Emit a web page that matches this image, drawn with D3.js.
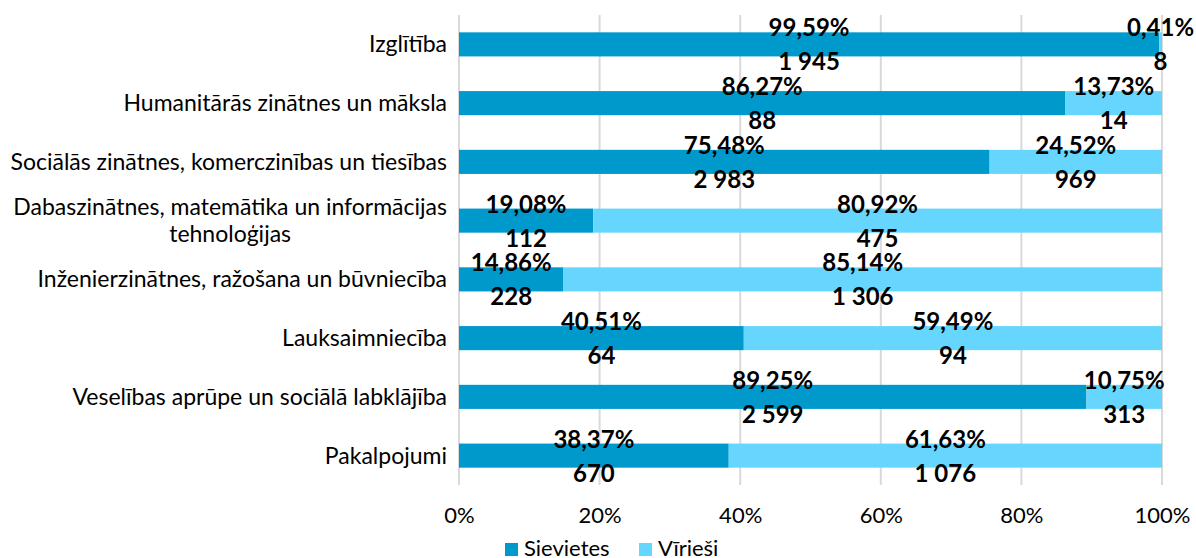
<!DOCTYPE html>
<html>
<head>
<meta charset="utf-8">
<script src="https://cdn.jsdelivr.net/npm/d3@7"></script>
<style>
  body { margin: 0; background: #fff; }
  text { font-family: Lato, "Open Sans", sans-serif; fill: #000; }
</style>
</head>
<body>
<div id="chart"></div>
<script>
// chart data
var categories = [
  "Izglītība",
  "Humanitārās zinātnes un māksla",
  "Sociālās zinātnes, komerczinības un tiesības",
  "Dabaszinātnes, matemātika un informācijas|tehnoloģijas",
  "Inženierzinātnes, ražošana un būvniecība",
  "Lauksaimniecība",
  "Veselības aprūpe un sociālā labklājība",
  "Pakalpojumi"
]
var womenPct = [99.59, 86.27, 75.48, 19.08, 14.86, 40.51, 89.25, 38.37]
var menPct = [0.41, 13.73, 24.52, 80.92, 85.14, 59.49, 10.75, 61.63]
var womenCount = [1945, 88, 2983, 112, 228, 64, 2599, 670]
var menCount = [8, 14, 969, 475, 1306, 94, 313, 1076]
var seriesNames = ["Sievietes", "Vīrieši"]
var xTicks = [0, 20, 40, 60, 80, 100]

var colors = ["#0099CC", "#66D6FF"]

var width = 1196, height = 558
var margin = { top: 15, right: 34, bottom: 73, left: 459 }

var svg = d3.select("#chart")
  .append("svg")
  .attr("width", width)
  .attr("height", height)

var xScale = d3.scaleLinear()
  .domain([0, 100])
  .range([margin.left, width - margin.right])

var yScale = d3.scaleBand()
  .domain(categories)
  .range([margin.top, height - margin.bottom])
  .paddingInner(0.59)
  .paddingOuter(0.295)

var pctFmt = function(v) { return v.toFixed(2).replace(".", ",") + "%" }
var numFmt = d3.formatLocale({ decimal: ",", thousands: "\u00a0", grouping: [3], currency: ["", ""] }).format(",d")

// grid
svg.append("g")
  .attr("class", "grid")
  .selectAll("line")
  .data(xTicks)
  .enter()
  .append("line")
  .attr("x1", d => xScale(d))
  .attr("x2", d => xScale(d))
  .attr("y1", margin.top)
  .attr("y2", height - margin.bottom)
  .style("stroke", "#D9D9D9")
  .style("stroke-width", 2)

// x axis labels
var xAxis = d3.axisBottom(xScale)
  .tickValues(xTicks)
  .tickSize(0)
  .tickFormat(d => d + "%")

svg.append("g")
  .attr("transform", `translate(0,${height - margin.bottom})`)
  .call(xAxis)
  .call(g => g.select(".domain").remove())
  .selectAll("text")
  .attr("y", 0)
  .attr("dy", "38px")
  .style("font-size", "22px")
  .style("font-family", "Lato, sans-serif")

// category labels (right aligned block, multi-line centred)
var catG = svg.append("g")
categories.forEach(function(c) {
  var lines = c.split("|")
  var cy = yScale(c) + yScale.bandwidth() / 2
  var t = catG.append("text")
    .attr("text-anchor", "middle")
    .style("font-size", "23px")
  var lineH = 27
  var x0 = 447
  lines.forEach(function(l, i) {
    t.append("tspan")
      .attr("x", 0)
      .attr("y", cy + (i - (lines.length - 1) / 2) * lineH)
      .attr("dy", "0.35em")
      .text(l)
  })
  var w = t.node().getBBox().width
  t.selectAll("tspan").attr("x", x0 - w / 2)
})

// bars
var segs = categories.map(function(c, i) {
  return [
    { cat: c, x0: 0, x1: womenPct[i], pct: womenPct[i], n: womenCount[i], s: 0 },
    { cat: c, x0: womenPct[i], x1: womenPct[i] + menPct[i], pct: menPct[i], n: menCount[i], s: 1 }
  ]
}).flat()

svg.append("g")
  .selectAll("rect")
  .data(segs)
  .enter()
  .append("rect")
  .attr("x", d => xScale(d.x0))
  .attr("width", d => xScale(d.x1) - xScale(d.x0))
  .attr("y", d => yScale(d.cat))
  .attr("height", yScale.bandwidth())
  .style("fill", d => colors[d.s])

// data labels
var lab = svg.append("g")
lab.selectAll(".pct")
  .data(segs)
  .enter()
  .append("text")
  .attr("class", "pct")
  .attr("x", d => xScale((d.x0 + d.x1) / 2))
  .attr("y", d => yScale(d.cat) + yScale.bandwidth() / 2 - 8)
  .attr("text-anchor", "middle")
  .style("font-size", "24px")
  .style("font-weight", "bold")
  .text(d => pctFmt(d.pct))

lab.selectAll(".cnt")
  .data(segs)
  .enter()
  .append("text")
  .attr("class", "cnt")
  .attr("x", d => xScale((d.x0 + d.x1) / 2))
  .attr("y", d => yScale(d.cat) + yScale.bandwidth() / 2 + 26)
  .attr("text-anchor", "middle")
  .style("font-size", "24px")
  .style("font-weight", "bold")
  .text(d => numFmt(d.n))

// legend
var legend = svg.append("g")
var legX = [505, 639]
seriesNames.forEach(function(s, i) {
  legend.append("rect")
    .attr("x", legX[i])
    .attr("y", 543)
    .attr("width", 13)
    .attr("height", 13)
    .style("fill", colors[i])
  legend.append("text")
    .attr("x", legX[i] + 19)
    .attr("y", 548)
    .attr("dy", "0.35em")
    .style("font-size", "22px")
    .text(s)
})
</script>
</body>
</html>
